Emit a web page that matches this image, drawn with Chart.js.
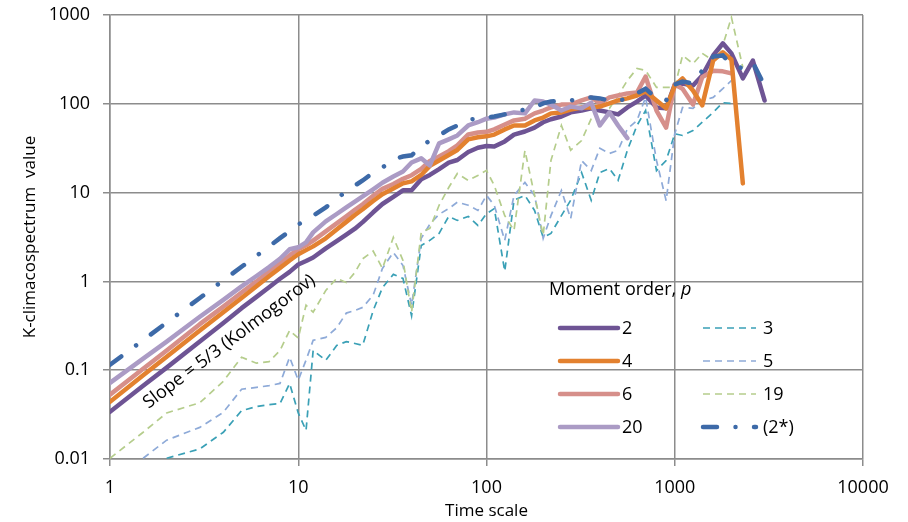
<!DOCTYPE html>
<html>
<head>
<meta charset="utf-8">
<script src="https://cdn.jsdelivr.net/npm/chart.js@4.4.1/dist/chart.umd.min.js"></script>
<style>
  html, body { margin: 0; padding: 0; background: #fff; }
  canvas { display: block; }
</style>
</head>
<body>
<canvas id="climaco" width="908" height="522"></canvas>
<script>
// time scales shared by every moment order
const timeScale = [1, 1.5, 2, 3, 4, 5, 6, 7, 8, 9,
  10, 11, 12, 14, 16, 18, 20, 22, 25, 28,
  32, 36, 40, 45, 50, 56, 63, 70, 80, 90,
  100, 110, 125, 140, 160, 180, 200, 220, 250, 280,
  320, 360, 400, 450, 500, 560, 630, 700, 800, 900,
  1000, 1100, 1250, 1400, 1600, 1800, 2000, 2300, 2600, 3000];

const p2 = [0.034, 0.067, 0.107, 0.21, 0.34, 0.5, 0.67, 0.86, 1.07, 1.28,
  1.55, 1.7, 1.86, 2.35, 2.84, 3.36, 3.92, 4.65, 6.0, 7.44,
  8.95, 10.6, 10.6, 14.1, 15.8, 18.4, 21.8, 23.3, 28.7, 32,
  33.5, 33, 37.7, 45, 48.8, 54, 62, 67, 72, 80,
  84, 89, 84, 80, 76, 91, 106, 124, 91, 89,
  165, 169, 161, 208, 350, 480, 370, 193, 307, 109];

const p3 = [null, null, 0.0102, 0.013, 0.02, 0.035, 0.039, 0.041, 0.042, 0.071,
  0.033, 0.021, 0.167, 0.129, 0.19, 0.21, 0.2, 0.19, 0.47, 0.85,
  1.2, 1.08, 0.41, 2.54, 2.9, 3.47, 5.4, 4.86, 5.4, 4.27,
  5.8, 6.6, 1.3, 8.2, 9.3, 6.3, 3.13, 3.47, 5.5, 8.2,
  16.8, 8.2, 16.8, 18.7, 13.7, 29.9, 57, 84, 17.7, 23,
  46, 44, 50, 62, 80, 103, 101, null, null, null];

const p4 = [0.044, 0.088, 0.142, 0.28, 0.45, 0.65, 0.88, 1.14, 1.42, 1.72,
  2.02, 2.25, 2.48, 3.06, 3.85, 4.68, 5.6, 6.5, 8.05, 9.6,
  11.1, 12.7, 13.4, 15.8, 20, 23, 26.5, 30.2, 39.8, 42,
  43, 45, 51.5, 57, 57, 65, 70, 78, 80, 86,
  91, 91, 93, 101, 109, 115, 124, 138, 109, 89,
  161, 193, 141, 96, 307, 380, 315, 12.7, null, null];

const p5 = [null, 0.0102, 0.0163, 0.0227, 0.0336, 0.061, 0.064, 0.067, 0.071, 0.14,
  0.077, 0.13, 0.217, 0.234, 0.3, 0.44, 0.47, 0.51, 0.7, 1.4,
  2.12, 1.51, 0.54, 3.05, 4.4, 5.7, 6.6, 7.8, 7.2, 6.3,
  9.3, 7.2, 2.9, 9.3, 13, 9.3, 3.05, 5.5, 10.6, 5.1,
  23, 17.7, 31.6, 27.6, 29.9, 52, 65, 118, 23, 8.1,
  46, 91, 89, 109, 118, 148, 183, null, null, null];

const p6 = [0.053, 0.104, 0.167, 0.33, 0.52, 0.75, 1.0, 1.3, 1.62, 1.96,
  2.3, 2.55, 2.88, 3.66, 4.5, 5.4, 6.4, 7.4, 9.2, 11.0,
  12.5, 14.3, 15.7, 18.5, 22.7, 25.5, 29.3, 34, 45.2, 47.5,
  48.3, 51.5, 58.5, 65, 68, 78, 84, 91, 98, 98,
  109, 118, 101, 118, 124, 131, 134, 203, 84, 54,
  165, 148, 98, 200, 236, 232, 220, null, null, null];

const p19 = [0.0102, 0.02, 0.033, 0.043, 0.075, 0.14, 0.12, 0.125, 0.167, 0.28,
  0.23, 0.54, 0.45, 0.79, 1.08, 0.97, 1.26, 1.8, 2.2, 1.4,
  3.13, 1.72, 0.45, 3.56, 3.95, 7.2, 11.4, 16.4, 13.7, 15.6,
  17.8, 12, 5.5, 3.75, 29.8, 9.3, 3.3, 23, 57, 30,
  38.6, 68, 103, 89, 124, 183, 250, 238, 153, 153,
  153, 350, 283, 370, 307, 455, 940, 257, null, null];

const p20 = [0.072, 0.135, 0.21, 0.4, 0.62, 0.88, 1.15, 1.45, 1.8, 2.3,
  2.42, 2.75, 3.56, 4.74, 5.74, 6.8, 7.9, 9.05, 10.9, 12.9,
  15.2, 17.3, 21.8, 24.3, 20.2, 35.8, 39.8, 44, 57, 62,
  68, 70, 76, 80, 78, 109, 106, 98, 84, 93,
  89, 103, 57, 80, 57, 41, null, null, null, null,
  null, null, null, null, null, null, null, null, null, null];

const p2star = [0.115, 0.218, 0.344, 0.65, 1.03, 1.46, 1.94, 2.48, 3.07, 3.69,
  4.37, 4.9, 5.5, 6.8, 8.6, 10.3, 12, 13.7, 16.8, 19.2,
  23.6, 25.5, 26.3, 33, 38.6, 44, 51.5, 57, 66.5, 68,
  70, 72, 76, 82, 86, 91, 101, 106, 109, 109,
  115, 118, 115, 109, 106, 118, 131, 148, 115, 109,
  165, 178, 169, 237, 340, 350, 277, 250, 292, 160];

const xTicks = [1, 10, 100, 1000, 10000];
const yTicks = [0.01, 0.1, 1, 10, 100, 1000];

const gridGray = '#8c8c8c';
const fontFamily = "'Open Sans', sans-serif";
const baseFont = { family: fontFamily, size: 18 };

function series(values) {
  return timeScale.map((t, i) => ({ x: t, y: values[i] })).filter(d => d.y !== null);
}

const thick = { borderWidth: 4.5, borderJoinStyle: 'round', borderCapStyle: 'round' };
const thin = { borderWidth: 1.7, borderDash: [7, 5] };
const dashDot = [14, 18.5, 0.01, 18.5];

// legend slot per dataset: [column, row]
const legendSlots = { '2': [0, 0], '4': [0, 1], '6': [0, 2], '20': [0, 3],
  '3': [1, 0], '5': [1, 1], '19': [1, 2], '(2*)': [1, 3] };

const momentLegend = {
  id: 'momentLegend',
  afterDraw(chart) {
    const ctx = chart.ctx;
    ctx.save();
    ctx.fillStyle = '#000';
    ctx.textBaseline = 'middle';
    ctx.font = '18px ' + fontFamily;
    const head = 'Moment order, ';
    ctx.fillText(head, 549, 290);
    const w = ctx.measureText(head).width;
    ctx.font = 'italic 18px ' + fontFamily;
    ctx.fillText('p', 549 + w, 290);

    ctx.font = '18px ' + fontFamily;
    const colLine = [[560, 618], [703, 756]];
    const colText = [622, 763];
    const rowY = [328, 361, 394, 427];
    chart.data.datasets.forEach(ds => {
      const [c, r] = legendSlots[ds.label];
      const y = rowY[r];
      ctx.save();
      ctx.strokeStyle = ds.borderColor;
      ctx.lineWidth = ds.borderWidth;
      ctx.lineCap = ds.borderCapStyle || 'butt';
      ctx.setLineDash(ds.borderDash || []);
      ctx.beginPath();
      ctx.moveTo(colLine[c][0], y);
      ctx.lineTo(colLine[c][1], y);
      ctx.stroke();
      ctx.restore();
      ctx.fillText(ds.label, colText[c], y + 1);
    });

    // slope annotation laid along the p = 2 .. 20 lines
    const xs = chart.scales.x, ys = chart.scales.y;
    ctx.translate(xs.getPixelForValue(4.3), ys.getPixelForValue(0.21));
    ctx.rotate(-37 * Math.PI / 180);
    ctx.textAlign = 'center';
    ctx.fillText('Slope = 5/3 (Kolmogorov)', 0, 0);
    ctx.restore();
  }
};

new Chart(document.getElementById('climaco'), {
  type: 'line',
  data: {
    datasets: [
      { label: '2', data: series(p2), borderColor: '#6e5494', order: 4, ...thick },
      { label: '3', data: series(p3), borderColor: '#3aa0b6', order: 7, ...thin },
      { label: '4', data: series(p4), borderColor: '#e3812f', order: 2, ...thick },
      { label: '5', data: series(p5), borderColor: '#8eaad8', order: 6, ...thin },
      { label: '6', data: series(p6), borderColor: '#d68f8a', order: 3, ...thick },
      { label: '19', data: series(p19), borderColor: '#b5cd8c', order: 5, ...thin },
      { label: '20', data: series(p20), borderColor: '#ab9bc5', order: 1, ...thick },
      { label: '(2*)', data: series(p2star), borderColor: '#3d6aa8', order: 0,
        borderWidth: 4.5, borderCapStyle: 'round', borderDash: dashDot }
    ]
  },
  options: {
    responsive: false,
    animation: false,
    devicePixelRatio: 1,
    layout: { padding: { top: 15, right: 45, left: 0, bottom: 0 } },
    elements: { point: { radius: 0 }, line: { tension: 0 } },
    plugins: { legend: { display: false }, tooltip: { enabled: false } },
    scales: {
      x: {
        type: 'logarithmic', min: 1, max: 10000,
        afterBuildTicks: s => { s.ticks = xTicks.map(v => ({ value: v })); },
        afterFit: s => { s.height = 63; },
        grid: { color: gridGray, lineWidth: 1.5, tickLength: 7, tickColor: gridGray },
        border: { color: gridGray, width: 1.5 },
        ticks: { font: baseFont, color: '#000', padding: 11, maxRotation: 0, autoSkip: false,
          callback: v => String(v) },
        title: { display: true, text: 'Time scale', font: { family: fontFamily, size: 17 },
          color: '#000', padding: { top: 0, bottom: 1 } }
      },
      y: {
        type: 'logarithmic', min: 0.01, max: 1000,
        afterBuildTicks: s => { s.ticks = yTicks.map(v => ({ value: v })); },
        afterFit: s => { s.width = 110; s.paddingTop = 0; s.paddingBottom = 0; },
        grid: { color: gridGray, lineWidth: 1.5, tickLength: 7, tickColor: gridGray },
        border: { color: gridGray, width: 1.5 },
        ticks: { font: baseFont, color: '#000', padding: 13, autoSkip: false,
          callback: v => String(v) },
        title: { display: true, text: 'K-climacospectrum  value', font: { family: fontFamily, size: 17 },
          color: '#000', padding: { top: 20, bottom: 0 } }
      }
    }
  },
  plugins: [momentLegend]
});
</script>
</body>
</html>
